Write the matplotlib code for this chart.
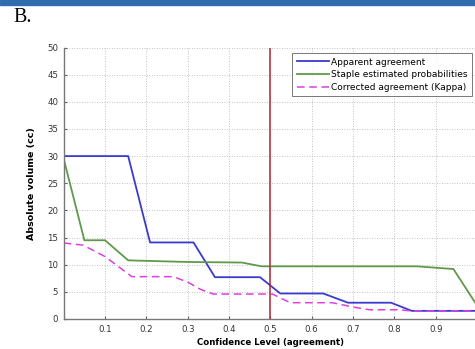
import matplotlib
matplotlib.use("Agg")
import matplotlib.pyplot as plt

# Apparent agreement (step-like volume vs confidence)
apparent_x = [0.0, 0.156, 0.209, 0.314, 0.366, 0.475, 0.524, 0.628, 0.688, 0.792, 0.842, 1.0]
apparent_y = [30.0, 30.0, 14.1, 14.1, 7.7, 7.7, 4.7, 4.7, 3.0, 3.0, 1.5, 1.5]

# STAPLE estimated probabilities
staple_x = [0.0, 0.05, 0.10, 0.156, 0.30, 0.431, 0.479, 0.855, 0.943, 1.0]
staple_y = [29.5, 14.5, 14.5, 10.8, 10.5, 10.4, 9.7, 9.7, 9.2, 2.5]

# Corrected agreement (Kappa)
kappa_x = [0.0, 0.047, 0.10, 0.165, 0.265, 0.30, 0.33, 0.362, 0.505, 0.548, 0.65, 0.70, 0.74, 0.81, 0.84, 1.0]
kappa_y = [14.0, 13.6, 11.5, 7.8, 7.8, 6.8, 5.5, 4.6, 4.6, 3.0, 3.0, 2.2, 1.7, 1.7, 1.5, 1.5]

threshold = 0.5

x_ticks = [0.1, 0.2, 0.3, 0.4, 0.5, 0.6, 0.7, 0.8, 0.9]
y_ticks = [0, 5, 10, 15, 20, 25, 30, 35, 40, 45, 50]

fig = plt.figure(figsize=(4.75, 3.49), dpi=100)

# header band
fig.patches.append(plt.Rectangle((0, 1 - 5 / 349), 1, 5 / 349, transform=fig.transFigure,
                                 color="#2f6cb0", zorder=0))
fig.text(13 / 475, 1 - 17 / 349, "B.", family="Liberation Serif", fontsize=14.5,
         va="center", ha="left")

ax = fig.add_axes([63.7 / 475, 30 / 349, 413.3 / 475, 271.5 / 349])

ax.plot(apparent_x, apparent_y, color="#3a3acf", lw=1.3, label="Apparent agreement")
ax.plot(staple_x, staple_y, color="#5f9a4c", lw=1.3, label="Staple estimated probabilities")
ax.plot(kappa_x, kappa_y, color="#dd3fe0", lw=1.1, ls=(0, (5, 3)),
        label="Corrected agreement (Kappa)")
ax.axvline(threshold, color="#b02535", lw=1.1)

ax.set_xlim(0, 1)
ax.set_ylim(0, 50)
ax.set_xticks(x_ticks)
ax.set_yticks(y_ticks)
ax.set_xticklabels([f"{v:.1f}" for v in x_ticks])
ax.tick_params(labelsize=6.2, length=2, direction="in", color="#666666", labelcolor="#333333",
               pad=4)
ax.grid(True, ls=(0, (1, 2)), color="#b0b0b0", lw=0.6)
for s in ("top", "right"):
    ax.spines[s].set_visible(False)
for s in ("left", "bottom"):
    ax.spines[s].set_color("#777777")
    ax.spines[s].set_linewidth(1.0)

ax.set_xlabel("Confidence Level (agreement)", fontsize=6.2, fontweight="bold", labelpad=3)
ax.set_ylabel("Absolute volume (cc)", fontsize=6.8, fontweight="bold", labelpad=8)

leg = ax.legend(loc="upper right", bbox_to_anchor=(472 / 475, 1 - 53 / 349),
                bbox_transform=fig.transFigure, fontsize=6.5, frameon=True, fancybox=False,
                edgecolor="#555555", handlelength=3.6, borderpad=0.5, labelspacing=0.4,
                handletextpad=0.2, borderaxespad=0)
leg.get_frame().set_linewidth(0.7)

fig.savefig("out.png", dpi=100)
